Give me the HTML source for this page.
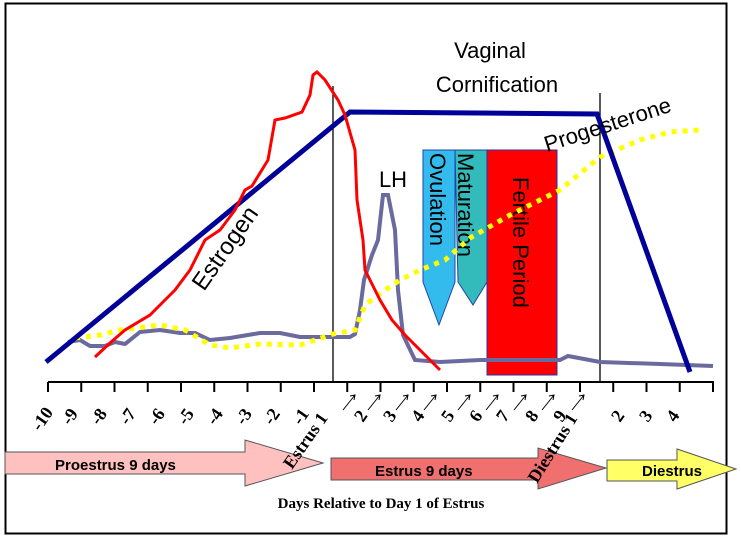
<!DOCTYPE html>
<html><head><style>
html,body{margin:0;padding:0;background:#fff;}
svg{display:block;}
</style></head><body>
<svg width="741" height="539" viewBox="0 0 741 539" xmlns="http://www.w3.org/2000/svg">
<rect x="5.5" y="3.5" width="721" height="530" fill="#fff" stroke="#000" stroke-width="2"/>
<!-- boxes -->
<polygon points="423,150 455,150 455,282 439,325 423,282" fill="#33bbee" stroke="#2244aa" stroke-width="1"/>
<polygon points="455,150 487,150 487,282 473,305 458,282" fill="#33bbbb" stroke="#2244aa" stroke-width="1"/>
<rect x="487" y="150" width="70" height="225" fill="#ff0000" stroke="#2233aa" stroke-width="1"/>
<g font-family="Liberation Sans, sans-serif" font-size="22" fill="#000">
<text transform="translate(430,153) rotate(90)">Ovulation</text>
<text transform="translate(458,153) rotate(90)">Maturation</text>
<text transform="translate(513,177) rotate(90)">Fertile Period</text>
</g>
<!-- vertical lines -->
<line x1="333" y1="86" x2="333" y2="382" stroke="#000" stroke-width="1.3"/>
<line x1="600" y1="93" x2="600" y2="382" stroke="#000" stroke-width="1.3"/>
<!-- LH -->
<polyline fill="none" stroke="#6a6a9e" stroke-width="4" points="68,342 80,340 90,346 105,346 115,342 125,344 140,332 160,330 180,333 195,333 210,340 230,338 260,333 280,333 300,337 320,337 350,337 355,334 360,310 364,280 372,255 378,240 383,195 388,195 395,230 398,290 403,335 415,360 440,362 480,360 560,360 568,356 600,362 660,364 713,366"/>
<!-- yellow dotted -->
<polyline fill="none" stroke="#ffff00" stroke-width="5" stroke-dasharray="5,6" points="75,338 100,335 120,330 160,325 185,330 210,345 230,348 260,344 300,345 333,334 355,330 365,305 385,290 400,280 420,270 445,260 470,238 510,215 560,190 600,157 640,140 670,132 700,130"/>
<!-- blue -->
<polyline fill="none" stroke="#000099" stroke-width="5" points="46,362 350,112 597,114 690,372"/>
<!-- red estrogen -->
<polyline fill="none" stroke="#ff0000" stroke-width="3" points="95,357 110,343 125,330 150,315 165,300 175,290 190,270 205,240 220,230 235,210 245,190 252,186 268,160 275,120 285,118 302,112 310,95 313,75 317,72 325,80 338,100 345,115 355,150 357,200 363,240 365,270 375,290 380,300 392,320 405,335 420,350 440,370"/>
<g font-family="Liberation Sans, sans-serif" fill="#000">
<text x="490" y="58" font-size="22" text-anchor="middle">Vaginal</text>
<text x="497" y="92" font-size="22" text-anchor="middle">Cornification</text>
<text x="393" y="187" font-size="22" text-anchor="middle">LH</text>
<text transform="translate(547,152) rotate(-18)" font-size="22">Progesterone</text>
<text transform="translate(204,292) rotate(-55)" font-size="24">Estrogen</text>
</g>
<!-- axis -->
<line x1="48" y1="382" x2="714" y2="382" stroke="#000" stroke-width="2"/>
<g stroke="#000" stroke-width="2">
<line x1="48.0" y1="382" x2="48.0" y2="392"/><line x1="81.25" y1="382" x2="81.25" y2="392"/><line x1="114.5" y1="382" x2="114.5" y2="392"/><line x1="147.75" y1="382" x2="147.75" y2="392"/><line x1="181.0" y1="382" x2="181.0" y2="392"/><line x1="214.25" y1="382" x2="214.25" y2="392"/><line x1="247.5" y1="382" x2="247.5" y2="392"/><line x1="280.75" y1="382" x2="280.75" y2="392"/><line x1="314.0" y1="382" x2="314.0" y2="392"/><line x1="347.25" y1="382" x2="347.25" y2="392"/><line x1="380.5" y1="382" x2="380.5" y2="392"/><line x1="413.75" y1="382" x2="413.75" y2="392"/><line x1="447.0" y1="382" x2="447.0" y2="392"/><line x1="480.25" y1="382" x2="480.25" y2="392"/><line x1="513.5" y1="382" x2="513.5" y2="392"/><line x1="546.75" y1="382" x2="546.75" y2="392"/><line x1="580.0" y1="382" x2="580.0" y2="392"/><line x1="613.25" y1="382" x2="613.25" y2="392"/><line x1="646.5" y1="382" x2="646.5" y2="392"/><line x1="679.75" y1="382" x2="679.75" y2="392"/><line x1="713.0" y1="382" x2="713.0" y2="392"/>
</g>
<!-- phase arrows -->
<polygon points="5,452 245,452 245,440 323,463 245,486 245,474 5,474" fill="#ffc0c0" stroke="#555" stroke-width="1"/>
<polygon points="331,458 538,458 538,448 606,468 538,489 538,480 331,480" fill="#f07070" stroke="#555" stroke-width="1"/>
<polygon points="607,460 677,460 677,449 736,469 677,489 677,481 607,481" fill="#ffff66" stroke="#555" stroke-width="1"/>
<g font-family="Liberation Sans, sans-serif" font-size="15" font-weight="bold" fill="#000">
<text x="55" y="470">Proestrus 9 days</text>
<text x="375" y="476">Estrus 9 days</text>
<text x="642" y="476">Diestrus</text>
</g>
<g font-family="Liberation Serif, serif" font-size="18" font-weight="bold" fill="#000">
<text transform="translate(40,432) rotate(-55)">-10</text>
<text transform="translate(70,426) rotate(-55)">-9</text>
<text transform="translate(99,426) rotate(-55)">-8</text>
<text transform="translate(128,426) rotate(-55)">-7</text>
<text transform="translate(157,426) rotate(-55)">-6</text>
<text transform="translate(186,426) rotate(-55)">-5</text>
<text transform="translate(215,426) rotate(-55)">-4</text>
<text transform="translate(244,426) rotate(-55)">-3</text>
<text transform="translate(272,426) rotate(-55)">-2</text>
<text transform="translate(301,426) rotate(-55)">-1</text>
<text transform="translate(292,470) rotate(-55)">Estrus 1</text>
<text transform="translate(363,423) rotate(-55)">2</text>
<text transform="translate(392,423) rotate(-55)">3</text>
<text transform="translate(420,423) rotate(-55)">4</text>
<text transform="translate(450,423) rotate(-55)">5</text>
<text transform="translate(478,423) rotate(-55)">6</text>
<text transform="translate(505,423) rotate(-55)">7</text>
<text transform="translate(534,423) rotate(-55)">8</text>
<text transform="translate(562,423) rotate(-55)">9</text>
<text transform="translate(537,484) rotate(-58)">Diestrus 1</text>
<text transform="translate(620,423) rotate(-55)">2</text>
<text transform="translate(648,423) rotate(-55)">3</text>
<text transform="translate(675,423) rotate(-55)">4</text>
</g>
<g stroke="#000" stroke-width="1" fill="none">
<path d="M343,410 L355,395 M350,396 L355,395 L354,400"/>
<path d="M368,410 L380,395 M375,396 L380,395 L379,400"/>
<path d="M396,410 L408,395 M403,396 L408,395 L407,400"/>
<path d="M424,410 L436,395 M431,396 L436,395 L435,400"/>
<path d="M458,410 L470,395 M465,396 L470,395 L469,400"/>
<path d="M486,410 L498,395 M493,396 L498,395 L497,400"/>
<path d="M514,410 L526,395 M521,396 L526,395 L525,400"/>
<path d="M542,410 L554,395 M549,396 L554,395 L553,400"/>
<path d="M572,410 L584,395 M579,396 L584,395 L583,400"/>
</g>
<text x="381" y="508" font-family="Liberation Serif, serif" font-size="15" font-weight="bold" text-anchor="middle">Days Relative to Day 1 of Estrus</text>
</svg>
</body></html>
